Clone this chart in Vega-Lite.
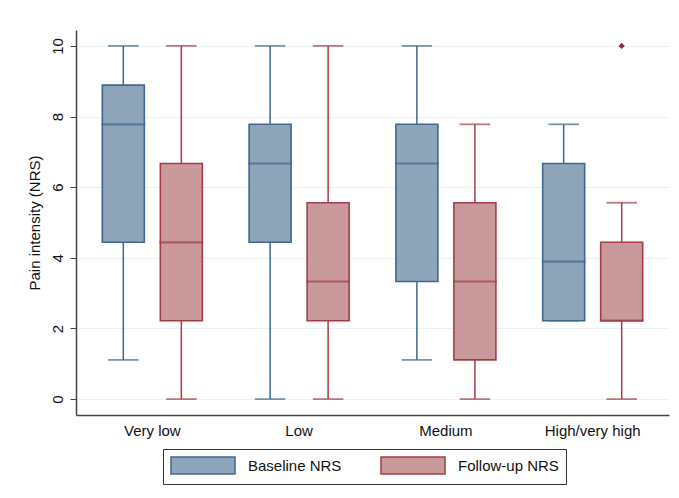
{
  "$schema": "https://vega.github.io/schema/vega-lite/v6.json",
  "width": 593,
  "height": 385,
  "autosize": {"type": "none"},
  "padding": {"left": 76, "top": 30, "right": 10, "bottom": 83},
  "background": "white",
  "config": {
    "font": "Liberation Sans",
    "view": {"stroke": null},
    "axis": {"labelFont": "Liberation Sans", "titleFont": "Liberation Sans", "labelColor": "#111", "titleColor": "#111"},
    "legend": {"labelFont": "Liberation Sans", "symbolOpacity": 1}
  },
  "datasets": {
    "boxes": [
      {"group": "Very low", "series": "Baseline NRS", "lower": 1.11, "q1": 4.44, "median": 7.78, "q3": 8.89, "upper": 10},
      {"group": "Very low", "series": "Follow-up NRS", "lower": 0, "q1": 2.22, "median": 4.44, "q3": 6.67, "upper": 10},
      {"group": "Low", "series": "Baseline NRS", "lower": 0, "q1": 4.44, "median": 6.67, "q3": 7.78, "upper": 10},
      {"group": "Low", "series": "Follow-up NRS", "lower": 0, "q1": 2.22, "median": 3.33, "q3": 5.56, "upper": 10},
      {"group": "Medium", "series": "Baseline NRS", "lower": 1.11, "q1": 3.33, "median": 6.67, "q3": 7.78, "upper": 10},
      {"group": "Medium", "series": "Follow-up NRS", "lower": 0, "q1": 1.11, "median": 3.33, "q3": 5.56, "upper": 7.78},
      {"group": "High/very high", "series": "Baseline NRS", "lower": 2.22, "q1": 2.22, "median": 3.89, "q3": 6.67, "upper": 7.78},
      {"group": "High/very high", "series": "Follow-up NRS", "lower": 0, "q1": 2.22, "median": 2.22, "q3": 4.44, "upper": 5.56}
    ],
    "outliers": [
      {"group": "High/very high", "series": "Follow-up NRS", "value": 10}
    ]
  },
  "encoding": {
    "x": {
      "field": "group", "type": "nominal",
      "sort": ["Very low", "Low", "Medium", "High/very high"],
      "scale": {"paddingInner": 0, "paddingOuter": 0.02},
      "axis": {"title": null, "labelAngle": 0, "ticks": false, "labelPadding": 8, "labelFontSize": 15, "domainColor": "#444", "domainWidth": 1.5, "grid": false}
    },
    "xOffset": {
      "field": "series", "type": "nominal",
      "sort": ["Baseline NRS", "Follow-up NRS"],
      "scale": {"paddingInner": 0, "paddingOuter": 0.265}
    }
  },
  "layer": [
    {
      "data": {"name": "boxes"},
      "mark": {"type": "rule", "strokeWidth": 1.5},
      "encoding": {
        "y": {
          "field": "lower", "type": "quantitative",
          "scale": {"domain": [-0.45, 10.45], "nice": false, "zero": false},
          "axis": {
            "title": "Pain intensity (NRS)", "titleFontSize": 15, "titleFontWeight": "normal", "titlePadding": 8,
            "values": [0, 2, 4, 6, 8, 10], "labelAngle": -90, "labelAlign": "center", "labelBaseline": "bottom",
            "labelFontSize": 15, "labelPadding": 5, "tickSize": 6, "tickColor": "#444", "domainColor": "#444", "domainWidth": 1.5,
            "grid": true, "gridColor": "#E9F1F3", "gridWidth": 1.2
          }
        },
        "y2": {"field": "upper"},
        "stroke": {"field": "series", "type": "nominal", "scale": {"domain": ["Baseline NRS", "Follow-up NRS"], "range": ["#3E6890", "#A43D48"]}}
      }
    },
    {
      "data": {"name": "boxes"},
      "mark": {"type": "tick", "size": 29, "thickness": 0.3, "filled": false, "strokeWidth": 1.5},
      "encoding": {
        "y": {"field": "lower", "type": "quantitative"},
        "stroke": {"field": "series", "type": "nominal"}
      }
    },
    {
      "data": {"name": "boxes"},
      "mark": {"type": "tick", "size": 29, "thickness": 0.3, "filled": false, "strokeWidth": 1.5},
      "encoding": {
        "y": {"field": "upper", "type": "quantitative"},
        "stroke": {"field": "series", "type": "nominal"}
      }
    },
    {
      "data": {"name": "boxes"},
      "mark": {"type": "bar", "size": 42, "strokeWidth": 1.6, "opacity": 1},
      "encoding": {
        "y": {"field": "q1", "type": "quantitative"},
        "y2": {"field": "q3"},
        "fill": {"field": "series", "type": "nominal", "scale": {"domain": ["Baseline NRS", "Follow-up NRS"], "range": ["#8EA5B9", "#C9999C"]},
          "legend": {"title": null, "orient": "none", "legendX": 87, "legendY": 419, "direction": "horizontal",
            "symbolType": "M-3.765,-1H3.765V1H-3.765Z", "symbolSize": 289, "symbolOffset": 23.5, "symbolStrokeWidth": 1.5, "symbolOpacity": 1,
            "labelFontSize": 15, "labelColor": "#111", "labelOffset": 35.5, "columnPadding": 35,
            "strokeColor": "#333", "padding": 7, "fillColor": "white",
            "encode": {"symbols": {"update": {"fillOpacity": {"value": 1}, "opacity": {"value": 1}, "strokeOpacity": {"value": 1}}}}}},
        "stroke": {"field": "series", "type": "nominal"}
      }
    },
    {
      "data": {"name": "boxes"},
      "mark": {"type": "tick", "size": 42, "thickness": 0.4, "filled": false, "strokeWidth": 1.8},
      "encoding": {
        "y": {"field": "median", "type": "quantitative"},
        "stroke": {"field": "series", "type": "nominal"}
      }
    },
    {
      "data": {"name": "outliers"},
      "mark": {"type": "point", "shape": "diamond", "filled": true, "size": 40, "color": "#8E2A38", "opacity": 1},
      "encoding": {
        "y": {"field": "value", "type": "quantitative"}
      }
    }
  ]
}
